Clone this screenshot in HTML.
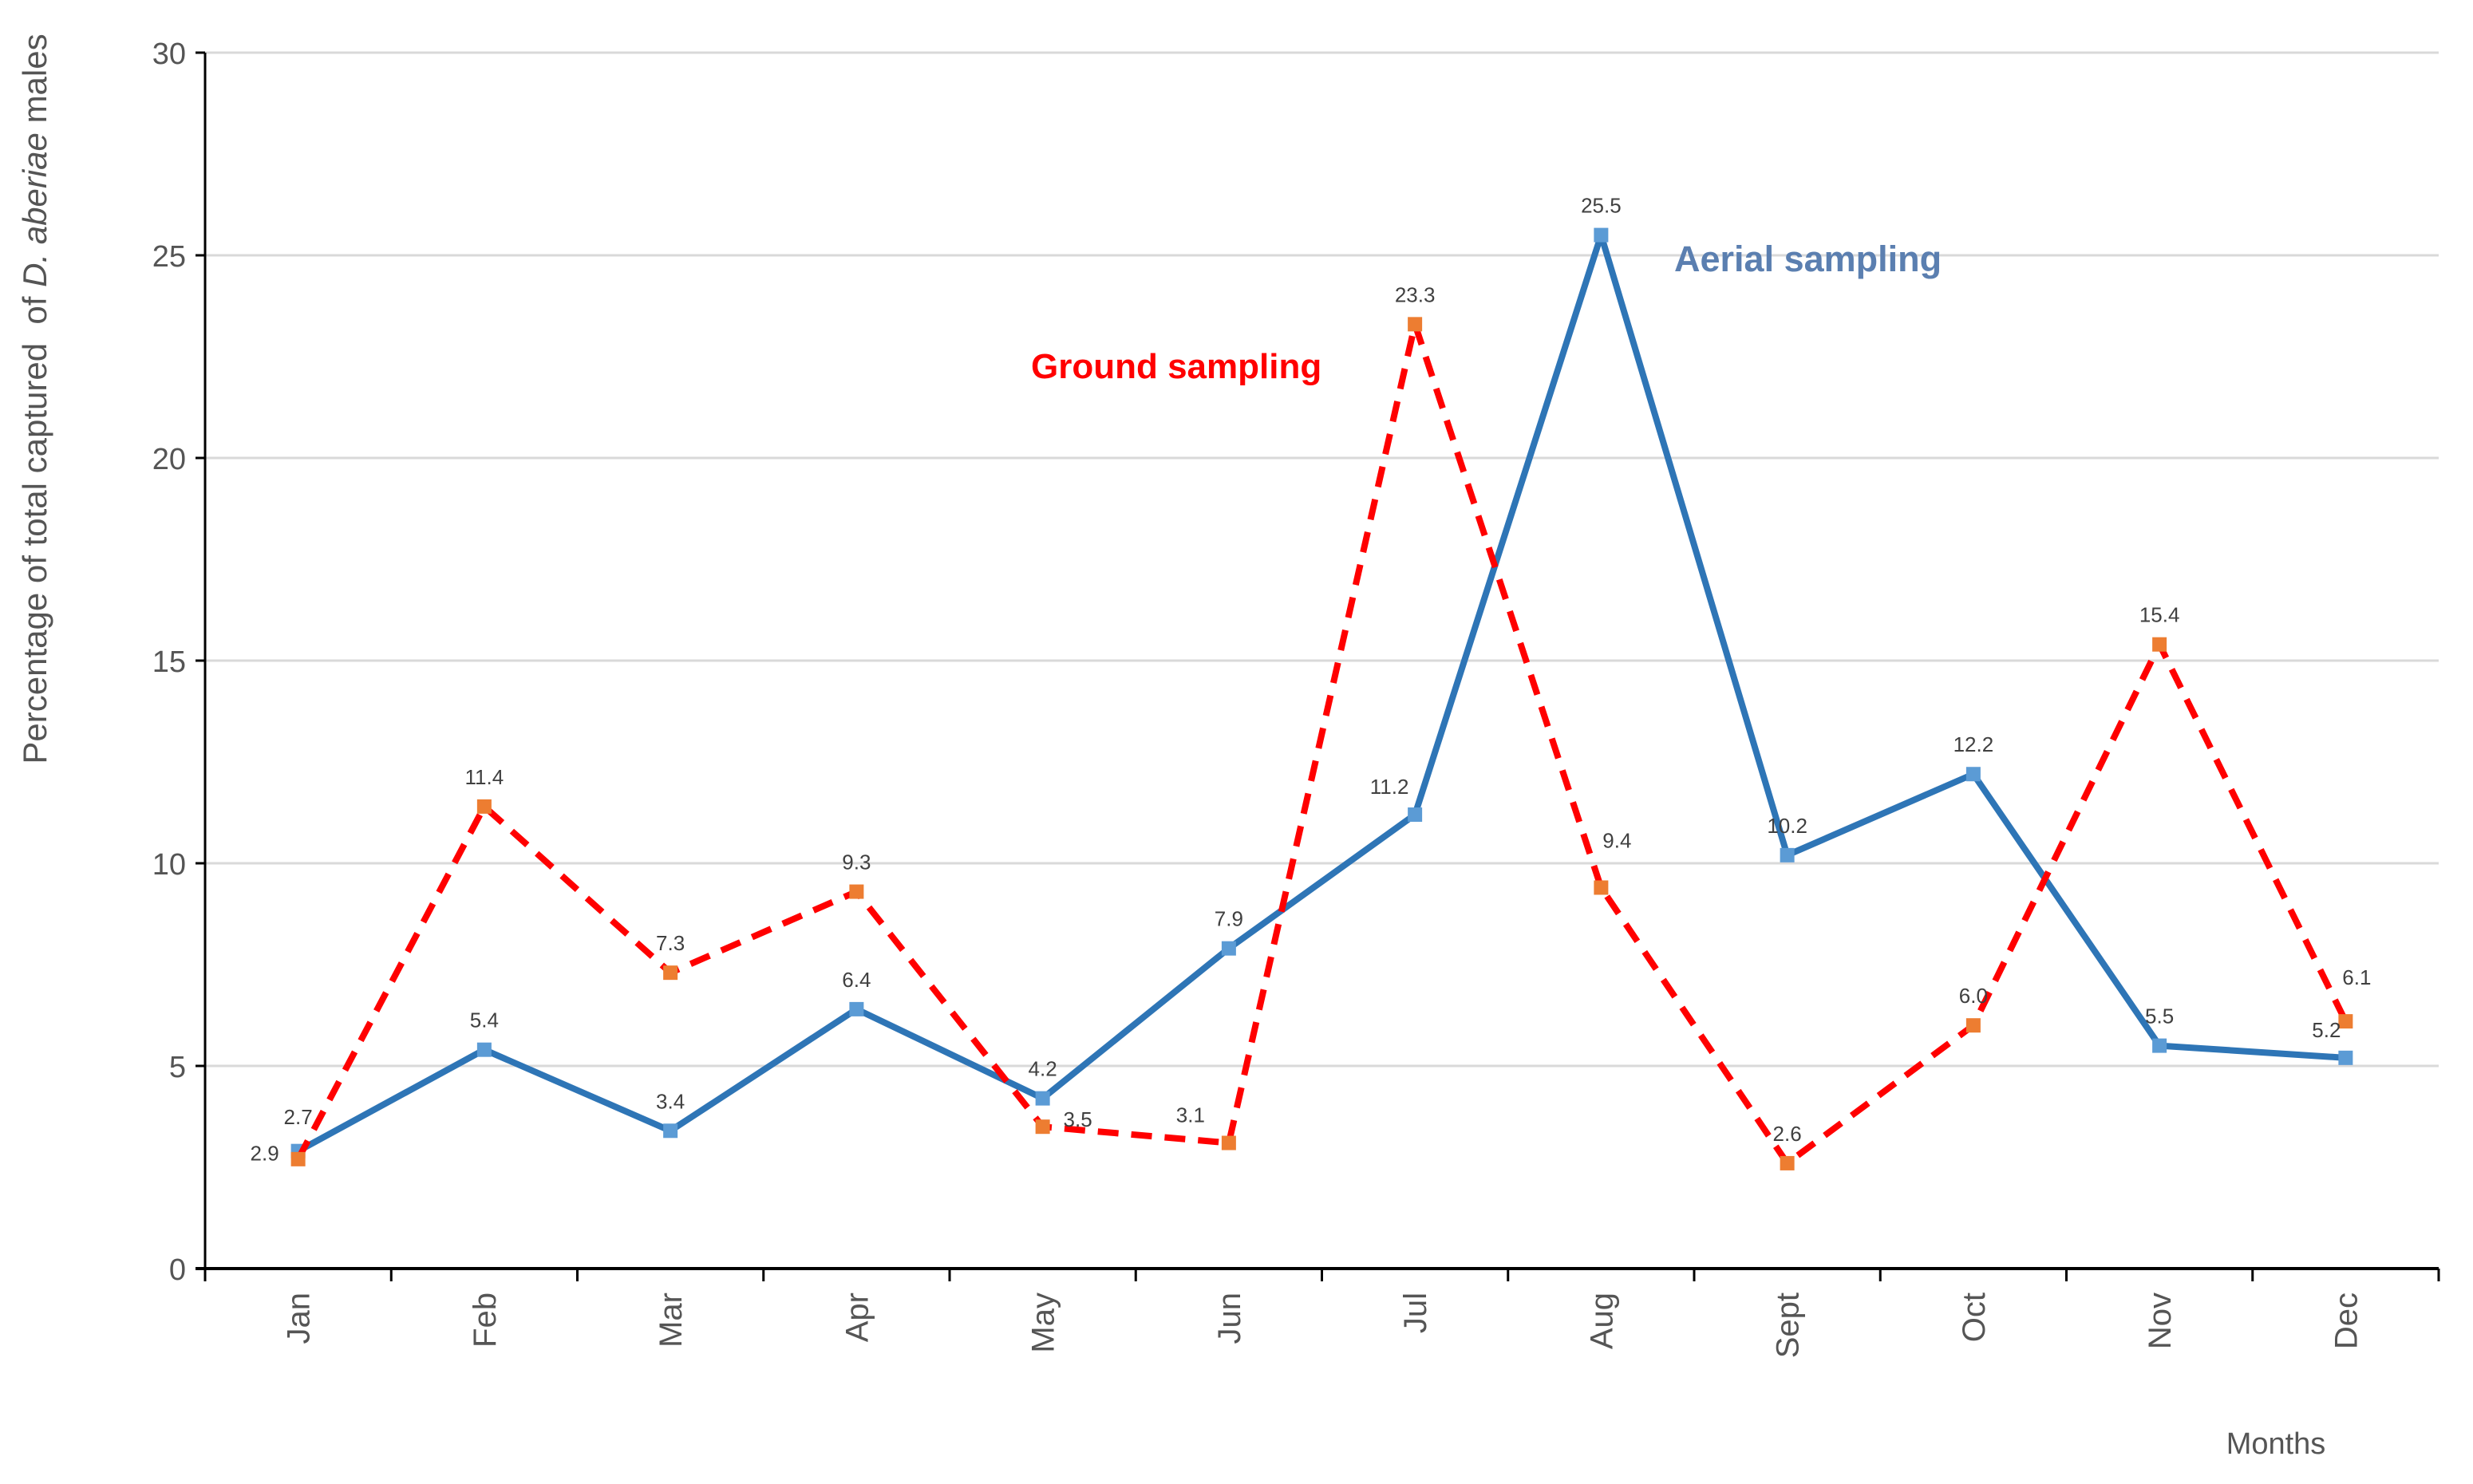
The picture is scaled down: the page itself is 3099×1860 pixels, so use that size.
<!DOCTYPE html>
<html><head><meta charset="utf-8"><style>
html,body{margin:0;padding:0;background:#fff;}
svg{display:block;font-family:"Liberation Sans",sans-serif;}
</style></head><body>
<svg id="chart" width="3099" height="1860" viewBox="0 0 3099 1860" xmlns="http://www.w3.org/2000/svg">
<g id="grid"></g>
<g id="axes"></g>
<g id="series"></g>
<g id="labels"></g>
<text transform="translate(58,500) rotate(-90)" text-anchor="middle" font-size="42" fill="#555">Percentage of total captured&#160; of <tspan font-style="italic">D. aberiae</tspan> males</text>
<text x="2852" y="1822" text-anchor="middle" font-size="38" fill="#555">Months</text>
<text x="2098" y="340" font-size="45" font-weight="bold" fill="#5b7fb0">Aerial sampling</text>
<text x="1292" y="474" font-size="44" font-weight="bold" fill="#ff0000">Ground sampling</text>
</svg>
<script>
const months = ["Jan","Feb","Mar","Apr","May","Jun","Jul","Aug","Sept","Oct","Nov","Dec"];
const aerial = [2.9,5.4,3.4,6.4,4.2,7.9,11.2,25.5,10.2,12.2,5.5,5.2];
const ground = [2.7,11.4,7.3,9.3,3.5,3.1,23.3,9.4,2.6,6.0,15.4,6.1];
const yTicks = [0,5,10,15,20,25,30];

const NS="http://www.w3.org/2000/svg";
const L=257,R=3056,T=66,B=1590,yMax=30;
const band=(R-L)/months.length;
const xPos=i=>L+band*(i+0.5);
const yPos=v=>B-(v/yMax)*(B-T);
function mk(tag,attrs,parent){const e=document.createElementNS(NS,tag);for(const k in attrs)e.setAttribute(k,attrs[k]);parent.appendChild(e);return e;}
const grid=document.getElementById('grid'),axes=document.getElementById('axes'),series=document.getElementById('series'),labels=document.getElementById('labels');

yTicks.forEach(v=>{
  if(v>0){const g=mk('line',{x1:L,x2:R,y1:yPos(v),y2:yPos(v),stroke:'#d9d9d9','stroke-width':3},grid);
  
  }
  const tk=mk('line',{x1:L-12,x2:L,y1:yPos(v),y2:yPos(v),stroke:'#000','stroke-width':3},axes);
  
  
  const t=mk('text',{x:L-24,y:yPos(v)+14,'text-anchor':'end','font-size':38,fill:'#555'},axes);
  t.textContent=v;
  
  
});
const ya=mk('line',{x1:L,x2:L,y1:T,y2:B,stroke:'#000','stroke-width':3},axes);


const xa=mk('line',{x1:L-12,x2:R,y1:B,y2:B,stroke:'#000','stroke-width':4},axes);


for(let i=0;i<=months.length;i++){
  const x=L+band*i;
  const tk=mk('line',{x1:x,x2:x,y1:B,y2:B+16,stroke:'#000','stroke-width':3},axes);
  
  
}
months.forEach((m,i)=>{
  const t=mk('text',{transform:`translate(${xPos(i)+14},${B+30}) rotate(-90)`,'text-anchor':'end','font-size':40,fill:'#555'},axes);
  t.textContent=m;
  
  
});

function drawSeries(vals,color,dash,mcolor,name){
  const d=vals.map((v,i)=>(i?'L':'M')+xPos(i)+','+yPos(v)).join(' ');
  const p=mk('path',{d:d,fill:'none',stroke:color,'stroke-width':8,'stroke-linejoin':'round'},series);
  if(dash)p.setAttribute('stroke-dasharray',dash);
  
  
  vals.forEach((v,i)=>{
    const r=mk('rect',{x:xPos(i)-9,y:yPos(v)-9,width:18,height:18,fill:mcolor},series);
    
    
  });
}
drawSeries(aerial,'#2e75b6',null,'#5b9bd5','aerial');
drawSeries(ground,'#ff0000','26 16','#ed7d31','ground');

const aOff={0:[-42,12],6:[-32,-26],11:[-24,-26]};
const gOff={0:[0,-44],4:[44,0],5:[-48,-26],7:[20,-50],9:[0,-28],11:[14,-46]};
function lab(vals,offs,name){
  vals.forEach((v,i)=>{
    const o=offs[i]||[0,-28];
    const t=mk('text',{x:xPos(i)+o[0],y:yPos(v)+o[1],'text-anchor':'middle','font-size':26,fill:'#404040'},labels);
    t.textContent=v.toFixed(1);
    
    
  });
}
lab(aerial,aOff,'aerial');
lab(ground,gOff,'ground');
</script>
</body></html>
